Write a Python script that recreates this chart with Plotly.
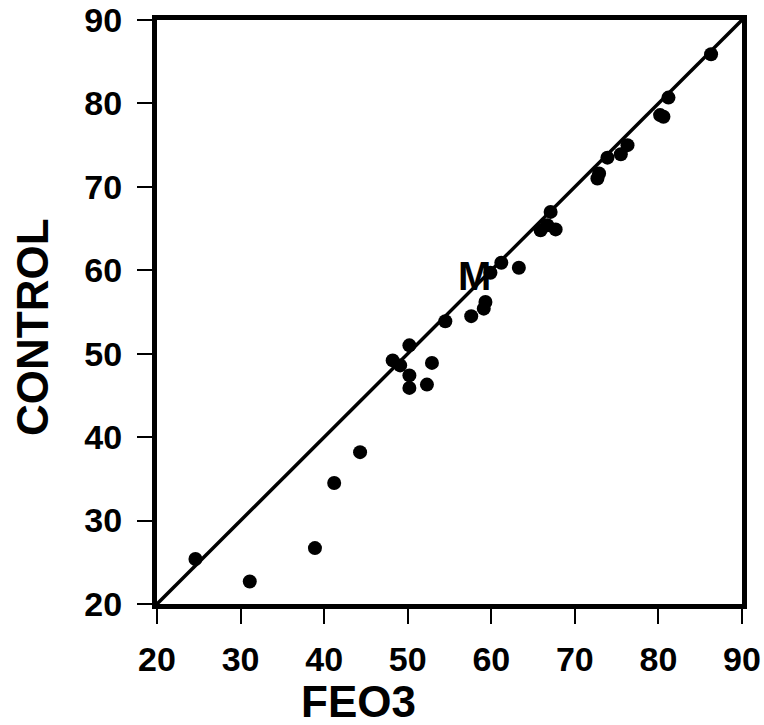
import plotly.graph_objects as go

# FEO3 vs CONTROL measurements
feo3 = [24.6, 31.1, 38.9, 41.2, 44.3, 48.2, 49.1, 50.2, 50.2, 50.2, 52.3, 52.9,
        54.5, 57.6, 59.1, 59.3, 59.9, 61.2, 63.3, 65.9, 66.7, 67.1, 67.7,
        72.7, 72.9, 73.9, 75.5, 76.3, 80.2, 80.6, 81.2, 86.3]
control = [25.4, 22.7, 26.7, 34.5, 38.2, 49.2, 48.6, 51.0, 47.4, 45.9, 46.3, 48.9,
           53.9, 54.5, 55.4, 56.2, 59.7, 60.9, 60.3, 64.8, 65.4, 67.0, 64.9,
           71.0, 71.6, 73.5, 73.9, 75.0, 78.6, 78.4, 80.7, 85.9]

# line of identity
identity = [20, 90]

tick_vals = [20, 30, 40, 50, 60, 70, 80, 90]
tick_text = [str(v) for v in tick_vals]

FONT = "Liberation Sans, Arial, sans-serif"

W, H = 764, 725
L, R, T, B = 157, 22, 20, 121
pw, ph = W - L - R, H - T - B


def px_to_paper(px, py):
    return (px - L) / pw, 1 - (py - T) / ph


fig = go.Figure()
fig.add_trace(go.Scatter(x=identity, y=identity, mode="lines",
                         line=dict(color="black", width=3.5),
                         showlegend=False, hoverinfo="skip"))
fig.add_trace(go.Scatter(x=feo3, y=control, mode="markers",
                         marker=dict(color="black", size=14, line=dict(width=0)),
                         showlegend=False))

axis_common = dict(
    range=[20, 90], tickvals=tick_vals, ticktext=tick_text,
    showgrid=False, zeroline=False, automargin=False,
    showline=True, linecolor="black", linewidth=5, mirror=True,
    ticks="outside", ticklen=15, tickwidth=2, tickcolor="black",
    tickfont=dict(family=FONT, size=34, color="black", weight="bold"),
)

fig.update_layout(
    width=W, height=H,
    margin=dict(l=L, r=R, t=T, b=B),
    paper_bgcolor="white", plot_bgcolor="white",
    xaxis=dict(**axis_common, ticklabelstandoff=6),
    yaxis=dict(**axis_common, ticklabelstandoff=8),
)

fx, fy = px_to_paper(358, 701)
cx, cy = px_to_paper(32, 327)
fig.add_annotation(text="<b>FEO3</b>", x=fx, y=fy, xref="paper", yref="paper",
                   showarrow=False, font=dict(family=FONT, size=44, color="black"),
                   xanchor="center", yanchor="middle")
fig.add_annotation(text="<b>CONTROL</b>", x=cx, y=cy, xref="paper", yref="paper",
                   showarrow=False, textangle=-90,
                   font=dict(family=FONT, size=44, color="black"),
                   xanchor="center", yanchor="middle")
fig.add_annotation(text="<b>M</b>", x=58.0, y=59.3, xref="x", yref="y",
                   showarrow=False, font=dict(family=FONT, size=40, color="black"),
                   xanchor="center", yanchor="middle")

fig.write_html("out.html")
